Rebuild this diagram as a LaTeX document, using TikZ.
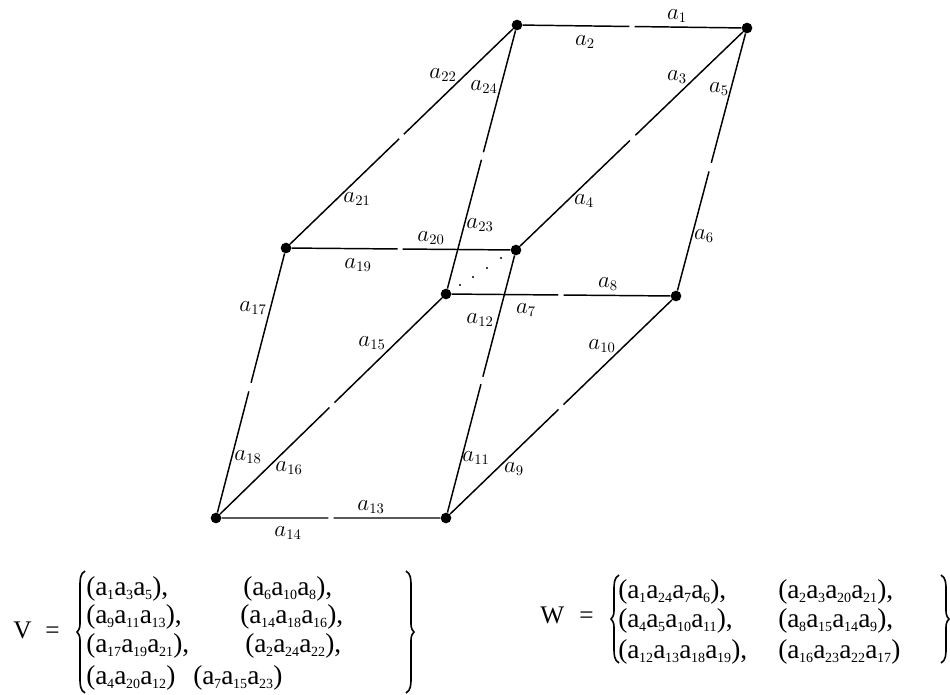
\documentclass[tikz,border=0pt]{standalone}
\usepackage{fontspec}
\setmainfont{Liberation Serif}
\usetikzlibrary{calc}
\newcommand{\sa}[1]{a\kern-.01em\lower.15em\hbox{\fontsize{10.5}{11}\selectfont\kern0pt #1}\kern.005em}
% edge with a small break: from, to, break position, half width of break
\newcommand{\gapedge}[4]{%
  \draw[edge] (#1) -- ($(#1)!{#3-#4}!(#2)$);
  \draw[edge] ($(#1)!{#3+#4}!(#2)$) -- (#2);}
% brace: x, top, bottom, direction (1 = left brace, -1 = right brace)
\newcommand{\bigbrace}[4]{%
  \draw[bracestroke] ({#1+#4*6},#2) .. controls ({#1+#4*1},{#2+3}) and ({#1+#4*1},{#2+8}) .. ({#1+#4*1},{#2+16})
    -- ({#1+#4*1},{(#2+#3)/2-8}) .. controls ({#1+#4*1},{(#2+#3)/2-3}) and ({#1-#4*1},{(#2+#3)/2-1}) .. ({#1-#4*2},{(#2+#3)/2})
    .. controls ({#1-#4*1},{(#2+#3)/2+1}) and ({#1+#4*1},{(#2+#3)/2+3}) .. ({#1+#4*1},{(#2+#3)/2+8})
    -- ({#1+#4*1},{#3-16}) .. controls ({#1+#4*1},{#3-8}) and ({#1+#4*1},{#3-3}) .. ({#1+#4*6},#3);}
\tikzset{
  edge/.style={line width=1.1pt,black},
  vert/.style={circle,fill=black,inner sep=0pt,minimum size=8pt},
  tiny dot/.style={circle,fill=black,inner sep=0pt,minimum size=1.7pt},
  lab/.style={inner sep=0pt,font=\fontsize{16}{17}\selectfont},
  entry/.style={inner sep=0pt,anchor=base west,font=\fontsize{20.5}{21}\selectfont},
  bigletter/.style={inner sep=0pt,anchor=base west,font=\fontsize{19}{20}\selectfont},
  bracestroke/.style={line width=1.2pt,black},
}
\begin{document}
\begin{tikzpicture}[x=0.75pt,y=-0.75pt]
\useasboundingbox (0,0) rectangle (950,694);
\node[vert] (A) at (517,25) {};
\node[vert] (B) at (747,28) {};
\node[vert] (C) at (286,248) {};
\node[vert] (D) at (516,250) {};
\node[vert] (E) at (446,294) {};
\node[vert] (F) at (676,296) {};
\node[vert] (G) at (216,518) {};
\node[vert] (H) at (446,518) {};
\gapedge{A}{B}{.500}{.011}
\gapedge{A}{C}{.500}{.010}
\gapedge{A}{E}{.487}{.014}
\gapedge{B}{D}{.495}{.012}
\gapedge{B}{F}{.519}{.016}
\gapedge{C}{D}{.496}{.011}
\gapedge{E}{F}{.500}{.011}
\gapedge{D}{H}{.487}{.014}
\gapedge{F}{H}{.500}{.011}
\gapedge{E}{G}{.496}{.011}
\gapedge{C}{G}{.515}{.016}
\gapedge{G}{H}{.500}{.011}
\node[tiny dot] (d1) at (460,285) {};
\node[tiny dot] (d2) at (473,277) {};
\node[tiny dot] (d3) at (487,268) {};
\node[tiny dot] (d4) at (501,258) {};
\node[lab] (l1) at (677,16) {$a_{1}$};
\node[lab] (l2) at (585,42) {$a_{2}$};
\node[lab] (l3) at (677,77) {$a_{3}$};
\node[lab] (l4) at (584,201) {$a_{4}$};
\node[lab] (l5) at (719,89) {$a_{5}$};
\node[lab] (l6) at (704,236) {$a_{6}$};
\node[lab] (l7) at (526,310) {$a_{7}$};
\node[lab] (l8) at (608,284) {$a_{8}$};
\node[lab] (l9) at (514,469) {$a_{9}$};
\node[lab] (l10) at (602,346) {$a_{10}$};
\node[lab] (l11) at (476,458) {$a_{11}$};
\node[lab] (l12) at (480,320) {$a_{12}$};
\node[lab] (l13) at (371,507) {$a_{13}$};
\node[lab] (l14) at (288,533) {$a_{14}$};
\node[lab] (l15) at (372,343) {$a_{15}$};
\node[lab] (l16) at (289,468) {$a_{16}$};
\node[lab] (l17) at (253,308) {$a_{17}$};
\node[lab] (l18) at (248,457) {$a_{18}$};
\node[lab] (l19) at (358,265) {$a_{19}$};
\node[lab] (l20) at (431,238) {$a_{20}$};
\node[lab] (l21) at (357,199) {$a_{21}$};
\node[lab] (l22) at (443,75) {$a_{22}$};
\node[lab] (l23) at (480,225) {$a_{23}$};
\node[lab] (l24) at (484,87) {$a_{24}$};
% V
\node[bigletter] (V) at (13,638) {V};
\node[bigletter] (Veq) at (45,638) {=};
\bigbrace{79}{571}{693}{1}
\bigbrace{412}{571}{693}{-1}
\node[entry] (v1) at (86,595) {(\sa1\sa3\sa5),};
\node[entry] (v2) at (243,595) {(\sa6\sa{10}\sa8),};
\node[entry] (v3) at (86,623) {(\sa9\sa{11}\sa{13}),};
\node[entry] (v4) at (240,623) {(\sa{14}\sa{18}\sa{16}),};
\node[entry] (v5) at (86,652) {(\sa{17}\sa{19}\sa{21}),};
\node[entry] (v6) at (245,652) {(\sa2\sa{24}\sa{22}),};
\node[entry] (v7) at (86,684) {(\sa4\sa{20}\sa{12})};
\node[entry] (v8) at (193,684) {(\sa7\sa{15}\sa{23})};
% W
\node[bigletter] (W) at (540,623) {W};
\node[bigletter] (Weq) at (579,623) {=};
\bigbrace{613}{575}{663}{1}
\bigbrace{947}{575}{663}{-1}
\node[entry] (w1) at (618,598) {(\sa1\sa{24}\sa7\sa6),};
\node[entry] (w2) at (778,598) {(\sa2\sa3\sa{20}\sa{21}),};
\node[entry] (w3) at (618,627) {(\sa4\sa5\sa{10}\sa{11}),};
\node[entry] (w4) at (778,627) {(\sa8\sa{15}\sa{14}\sa9),};
\node[entry] (w5) at (618,658) {(\sa{12}\sa{13}\sa{18}\sa{19}),};
\node[entry] (w6) at (778,658) {(\sa{16}\sa{23}\sa{22}\sa{17})};
\end{tikzpicture}
\end{document}
